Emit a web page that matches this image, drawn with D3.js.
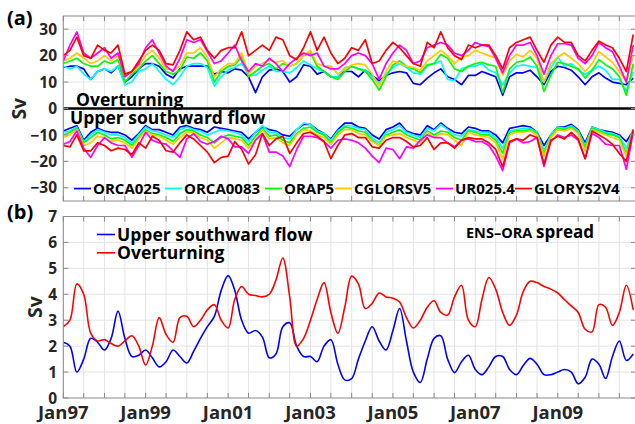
<!DOCTYPE html>
<html><head><meta charset="utf-8">
<script src="https://cdn.jsdelivr.net/npm/d3@7"></script>
<style>
body{margin:0;background:#fff}
text{font-family:"Open Sans",sans-serif;font-weight:bold}
</style>
</head><body>
<svg id="chart" width="635" height="424"></svg>
<script>
// ---------------- DATA ----------------
const startYear = 1997;
const stepMonths = 2;
const seriesNames = ["ORCA025","ORCA0083","ORAP5","CGLORSV5","UR025.4","GLORYS2V4"];
const seriesColors = ["#0000ff","#00ffff","#00ff00","#ffc800","#ff00ff","#ff0000"];

// Overturning (Sv), bimonthly from Jan 1997
const overORCA025 = [15.5,16,16,15,11,14,15,13.5,16,10,12,15,17,17,16,13,11.5,15,16,16,16,16,
  13,14,13.5,15,14.5,12,6,12,14.5,15,14,10,12,16.5,16,13,14,12,12,14,
  14,12,14.5,12.5,10.5,12.5,13.5,14,13.5,9.5,9,11.5,13.5,15,12,11,9,12.5,12.5,14,13,
  12,5,12,13.5,13.5,14.5,12,9,14,16,15.5,14.5,12,9,12,13.5,11.5,10,9.5,9,11.5];
const overORCA0083 = [16,15,16,13,11,14,15,14,16,9,10,14,15,17,14,11,9,12,16,17,17,15.5,
  8.5,12,14.5,15.5,17,13,12.5,14.5,16,14,14,13.5,15.5,18,16.5,15,14,12,12,15.5,
  16,15,14.5,12,9.5,13,15.5,17,15.5,13.5,13,16,17,18,11,10.5,15,16,16,17,14.5,
  13.5,9,13.5,16,16.5,16,15.5,10,15.5,19.5,16,17,14.5,13,14.5,16,14.5,11,11,6.5,14];
const overORAP5 = [17,18,19,17,16,16,18,17,18.5,10,13,15,18,20,17,14,13,14.5,19.5,19,21,18,
  10,14,16,16.5,19.5,12,14,16,17,15,17,16,17,20,21,16,14,12,11,14,
  16,15,14,11,7,12,16.5,18,16,15,13.5,16.5,17,20.5,19,15,14,16,17,17.5,16.5,
  16,6,15,17.5,18,19.5,16,6.5,12.5,17.5,17,16,15,11.5,14.5,18.5,16.5,15,12,5,17];
const overCGLORSV5 = [18,19,21,19,17,18,20,18,20,13,14,16,20,22,19,15,14.5,16,21,21,23,19.5,
  12,15,17,17,21,13,16,17,18.5,17.5,18,16,17,20,22,17,16,16,13,15,
  16.5,17,16.5,13,8.5,14,18,17,16,15.5,14.5,18,20,22,20,17,19.5,20,22,21,20,
  19,12.5,18,20.5,19.5,22,19,10,17,19.5,21,19,17,14,17,21.5,19.5,17.5,14,10,20];
const overUR0254 = [18,24,29,21,19,21,23,19,21,12,14,17,23,26,21,16,14,19,26,25,26,21.5,
  17,18,21,24,18,14,17,16,19,17,14,17,19,21,20,21,16,15,15,17,
  20,21,20,17,11,17,21,24,22,17,18,23,24,25,24,21,20,22,25,24,23.5,
  19,13.5,20,24,24,25,20,13,20,24.5,24.5,24,19,17,20,25,23,21.5,16,10,24];
const overGLORYS2V4 = [20,22,27,20,19,24,22,21,24,13,14,18,22,24,22,17,16.5,22,29,26,27,22,
  19,22,23,23,29,20,22,24,22,27,26,20,18.5,23,29,22,27,21,17,19,
  23,22,26,17,18,22,25,23,20,17,16,25,23,29,23,20,18.5,24,23,24,24,
  20,15,23,25,26,27,22,17.5,24,27,25,25,20,18,22,25.5,24,23,19,14,28];

// Upper southward flow (Sv)
const upperORCA025 = [-8.5,-7.5,-6.5,-12,-9,-7.5,-8.5,-9,-9,-10,-12,-9.5,-6.5,-8,-8,-9,-10,-7,-6.5,-7.5,-8,-9,
  -7,-7.5,-8,-8.5,-9,-11.5,-9,-7,-8,-8.5,-10,-10.5,-8,-6,-6,-8,-9.5,-11.5,-8,-5.5,
  -5.5,-7,-7.5,-10,-11.5,-8,-7,-5.5,-8.5,-9.5,-10,-6.5,-8,-5.5,-7.5,-9,-9.5,-7,-7.5,-8.5,-8.5,
  -10,-13,-7.5,-7,-6.5,-7,-9,-14,-10,-7,-7,-6,-8,-13,-7,-8,-8.5,-9,-10,-12.5,-8.5];
const upperORCA0083 = [-9,-8.5,-7,-12.5,-10,-8,-9,-10,-10,-11,-13,-10,-7,-8.5,-9,-10,-11,-8,-7,-8,-8.5,-10,
  -9,-8,-8.5,-9,-10,-12.5,-9,-6.5,-9,-9,-11,-11.5,-8,-5.5,-6,-8.5,-9.5,-12,-8.5,-6.5,
  -6.5,-7.5,-8,-11,-13,-9,-8,-6.5,-9,-10,-11,-7.5,-8.5,-6,-8,-10,-10.5,-8,-8.5,-9,-9,
  -11,-15,-8.5,-8,-7.5,-7.5,-9,-16,-10,-7,-7.5,-6.5,-8.5,-14,-7,-8,-9,-9.5,-10.5,-15,-8];
const upperORAP5 = [-10,-9,-7.5,-13,-11,-9,-10,-11.5,-11,-12,-14,-11,-8,-9.5,-10,-11,-12.5,-9.5,-8,-8.5,-10,-11,
  -13,-11,-10,-10.5,-11,-14,-10.5,-7.5,-10.5,-10,-12,-13,-9.5,-7.5,-7,-9,-10,-13,-9,-7,
  -7.5,-8.5,-9,-12,-14,-10,-9,-8,-10,-11,-12,-8.5,-10,-8.5,-9,-11,-12,-8.5,-9,-10,-10,
  -12,-17,-9,-8.5,-8.5,-8,-9.5,-17,-10.5,-7.5,-8,-7,-9,-15,-7.5,-8.5,-9.5,-10,-11,-17,-8];
const upperCGLORSV5 = [-11,-10,-8,-14,-13,-10.5,-11,-12.5,-12,-13,-15,-11.5,-8.5,-10,-10.5,-12,-13.5,-11,-9,-9,-11,-12,
  -15,-13,-11,-11.5,-12,-15,-12,-8,-11.5,-11,-13,-14,-10,-8,-8.5,-10,-11,-13.5,-10,-8,
  -8,-9.5,-10,-12.5,-14,-10.5,-10,-9.5,-11,-12,-13,-9,-11,-9.5,-10,-12,-14,-9,-10,-10.5,-11,
  -13,-19,-10,-9,-9,-8.5,-10,-18,-11,-8,-8.5,-7.5,-9.5,-16,-8,-9,-10,-11,-12,-18,-8];
const upperUR0254 = [-13.5,-12.5,-8.5,-15,-18.5,-14,-11,-13,-14,-14,-18.5,-14,-9,-12,-13,-13.5,-16,-18.5,-11.5,-9.5,-12.5,-13.5,
  -12.5,-10.5,-11.5,-14.5,-14.5,-17,-12,-9.5,-16.5,-16.5,-18,-22,-15.5,-10.5,-10.5,-11,-12.5,-15,-12,-11.5,
  -12,-13,-15,-18,-20.5,-15,-15.5,-19,-14.5,-15,-12,-10,-11,-11,-13,-14.5,-12,-11.5,-12.5,-12.5,-14,
  -18,-23.5,-13,-11.5,-13,-12.5,-11,-22,-12.5,-10,-11,-10,-12,-19,-9.5,-11,-13.5,-14,-14,-23,-9];
const upperGLORYS2V4 = [-14,-14.5,-10,-16,-16,-13,-14,-16,-15,-15.5,-17.5,-13,-15,-10.5,-12,-16,-16.5,-13,-10,-11.5,-14,-16.5,
  -20.5,-18.5,-18,-12.5,-15.5,-21,-17.5,-9.5,-14,-11.5,-10.5,-17,-13,-9.5,-9,-10.5,-12.5,-19,-14,-10,
  -9.5,-11,-11,-14.5,-15,-12,-11,-11,-12.5,-14.5,-14,-11,-15.5,-13,-13,-15,-12,-11,-11.5,-11.5,-13,
  -15.5,-22,-12.5,-11.5,-12,-10,-11,-21,-12,-10.5,-11.5,-9,-11.5,-19,-8.5,-10,-11.5,-13.5,-17,-20,-8];

// (b) ENS-ORA spread (Sv)
const spreadUpper = [2.15,2.0,1.0,1.5,2.3,2.15,1.85,2.3,3.35,2.3,1.6,1.65,1.85,1.55,1.2,1.4,1.85,1.6,1.35,1.8,2.3,2.75,3.15,4.15,4.72,4.15,3.0,2.5,2.6,2.35,1.55,1.7,2.75,2.9,2.0,1.6,1.6,
  1.4,2.0,2.25,1.3,0.7,0.75,1.5,2.2,2.75,2.2,1.85,2.6,3.45,2.2,1.0,0.6,1.5,2.3,2.4,1.5,0.98,1.4,1.65,1.1,0.9,1.2,1.6,1.6,1.1,0.9,1.25,1.53,1.3,0.9,0.9,1.0,1.1,1.0,0.55,0.8,1.5,1.3,0.75,1.6,2.2,1.45,1.7];
const spreadOver = [2.75,3.0,4.4,4.0,2.5,2.2,2.25,2.1,2.0,2.2,2.4,2.0,1.27,2.0,3.1,2.45,2.15,3.1,3.15,2.75,3.0,3.4,3.6,3.0,2.7,3.8,4.3,4.0,3.95,3.9,4.0,4.55,5.4,3.9,2.0,2.3,3.0,
  3.8,4.45,3.3,2.5,3.5,4.7,4.4,3.45,3.65,4.05,3.9,3.85,3.7,3.1,2.7,3.0,3.5,3.75,3.3,3.2,3.9,4.35,3.0,2.75,3.8,4.65,4.2,3.3,2.8,3.2,4.1,4.5,4.45,4.3,4.2,4.05,3.8,3.55,3.3,2.65,2.55,3.6,3.5,2.8,3.3,4.35,3.4];

const yTicksA = [-30,-20,-10,0,10,20,30];
const yTicksB = [0,1,2,3,4,5,6,7];
const xLabelYears = [1997,1999,2001,2003,2005,2007,2009];

// ---------------- CHART ----------------
const svg = d3.select("#chart");
const axisGray = "#8a8a8a", gridGray = "#e4e4e4", labelColor = "#262626";
const left = 63.3, frameRight = 637;
const x = d3.scaleUtc().domain([new Date(Date.UTC(1997,0,1)), new Date(Date.UTC(2011,0,1))]).range([left, 640.1]);
const dateAt = i => new Date(Date.UTC(startYear, i*stepMonths, 1));

const panelA = {top:16, bottom:201};
const panelB = {top:216.5, bottom:398};
const yA = d3.scaleLinear().domain([-35,35]).range([panelA.bottom, panelA.top]);
const yB = d3.scaleLinear().domain([0,7]).range([panelB.bottom, panelB.top]);

const gridTicks = x.ticks(d3.utcMonth.every(6)).filter(d => x(d) >= left-0.5 && x(d) <= frameRight);

function panel(y, p, yticks, gridVals){
  const g = svg.append("g");
  g.selectAll(".vg").data(gridTicks).join("line")
    .attr("x1", d=>x(d)).attr("x2", d=>x(d)).attr("y1", p.top).attr("y2", p.bottom)
    .attr("stroke", gridGray).attr("stroke-width", 1);
  g.selectAll(".hg").data(gridVals).join("line")
    .attr("x1", left).attr("x2", frameRight).attr("y1", d=>y(d)).attr("y2", d=>y(d))
    .attr("stroke", gridGray).attr("stroke-width", 1);
  return g;
}
function frame(y, p, yticks){
  const g = svg.append("g");
  g.append("rect").attr("x", left).attr("y", p.top).attr("width", frameRight-left).attr("height", p.bottom-p.top)
    .attr("fill","none").attr("stroke", axisGray).attr("stroke-width", 1);
  // x ticks (inside), bottom & top
  g.selectAll(".xb").data(gridTicks).join("line")
    .attr("x1", d=>x(d)).attr("x2", d=>x(d)).attr("y1", p.bottom).attr("y2", p.bottom-5)
    .attr("stroke", axisGray);
  g.selectAll(".xt").data(gridTicks).join("line")
    .attr("x1", d=>x(d)).attr("x2", d=>x(d)).attr("y1", p.top).attr("y2", p.top+5)
    .attr("stroke", axisGray);
  // y ticks inside, left & right
  g.selectAll(".yl").data(yticks).join("line")
    .attr("x1", left).attr("x2", left+5).attr("y1", d=>y(d)).attr("y2", d=>y(d)).attr("stroke", axisGray);
  g.selectAll(".yr").data(yticks).join("line")
    .attr("x1", frameRight).attr("x2", frameRight-6).attr("y1", d=>y(d)).attr("y2", d=>y(d)).attr("stroke", axisGray);
  // y labels
  g.selectAll(".ylab").data(yticks).join("text")
    .attr("x", 57).attr("y", d=>y(d)).attr("dy","0.36em").attr("text-anchor","end")
    .attr("font-size", 15.5).attr("fill", labelColor)
    .text(d => d < 0 ? "\u2212" + Math.abs(d) : d);
}

// Panel (a)
panel(yA, panelA, yTicksA, [-30,-20,-10,10,20,30]);
const lineA = d3.line().x((d,i)=>x(dateAt(i))).y(d=>yA(d));
const overSeries = [overORCA025, overORCA0083, overORAP5, overCGLORSV5, overUR0254, overGLORYS2V4];
const upperSeries = [upperORCA025, upperORCA0083, upperORAP5, upperCGLORSV5, upperUR0254, upperGLORYS2V4];
const clipA = svg.append("clipPath").attr("id","ca").append("rect")
  .attr("x", left).attr("y", panelA.top).attr("width", frameRight-left).attr("height", panelA.bottom-panelA.top);
const gA = svg.append("g").attr("clip-path","url(#ca)");
seriesNames.forEach((n,k)=>{
  gA.append("path").datum(overSeries[k]).attr("d", lineA).attr("fill","none")
    .attr("stroke", seriesColors[k]).attr("stroke-width", 1.7).attr("stroke-linejoin","round");
  gA.append("path").datum(upperSeries[k]).attr("d", lineA).attr("fill","none")
    .attr("stroke", seriesColors[k]).attr("stroke-width", 1.7).attr("stroke-linejoin","round");
});
svg.append("line").attr("x1", left).attr("x2", frameRight).attr("y1", yA(0)).attr("y2", yA(0))
  .attr("stroke","#000").attr("stroke-width", 2.6);
frame(yA, panelA, yTicksA);
svg.append("text").attr("x", 76).attr("y", 105.5).attr("font-size", 17.5).attr("fill","#000").text("Overturning");
svg.append("text").attr("x", 70).attr("y", 123.5).attr("font-size", 17.5).attr("fill","#000").text("Upper southward flow");

// legend (a)
const legX = [74, 165, 265, 335, 436, 515];
const legA = svg.append("g");
seriesNames.forEach((n,k)=>{
  legA.append("line").attr("x1", legX[k]).attr("x2", legX[k]+17).attr("y1", 188.6).attr("y2", 188.6)
    .attr("stroke", seriesColors[k]).attr("stroke-width", 1.7);
  legA.append("text").attr("x", legX[k]+19).attr("y", 194.3).attr("font-size", 15).attr("fill","#000").text(n);
});

// Panel (b)
panel(yB, panelB, yTicksB, [1,2,3,4,5,6]);
const lineB = d3.line().x((d,i)=>x(dateAt(i))).y(d=>yB(d)).curve(d3.curveCatmullRom.alpha(0.5));
const clipB = svg.append("clipPath").attr("id","cb").append("rect")
  .attr("x", left).attr("y", panelB.top).attr("width", frameRight-left).attr("height", panelB.bottom-panelB.top);
const gB = svg.append("g").attr("clip-path","url(#cb)");
gB.append("path").datum(spreadUpper).attr("d", lineB).attr("fill","none").attr("stroke","#0000ff").attr("stroke-width",1.6);
gB.append("path").datum(spreadOver).attr("d", lineB).attr("fill","none").attr("stroke","#ff0000").attr("stroke-width",1.6);
frame(yB, panelB, yTicksB);

// x labels
svg.selectAll(".xlab").data(xLabelYears).join("text")
  .attr("x", d=>x(new Date(Date.UTC(d,0,1)))).attr("y", 419).attr("text-anchor","middle")
  .attr("font-size", 18.5).attr("fill", labelColor)
  .text(d => "Jan" + String(d).slice(2));

// legend (b)
const legB = [{name:"Upper southward flow", color:"#0000ff", y:234.5},{name:"Overturning", color:"#ff0000", y:252.8}];
legB.forEach(l=>{
  svg.append("line").attr("x1", 97).attr("x2", 115).attr("y1", l.y).attr("y2", l.y).attr("stroke", l.color).attr("stroke-width",1.6);
  svg.append("text").attr("x", 117).attr("y", l.y+6).attr("font-size", 17.5).attr("fill","#000").text(l.name);
});
const ens = svg.append("text").attr("x", 466).attr("y", 238).attr("fill","#000");
ens.append("tspan").attr("font-size", 14.5).text("ENS\u2013ORA ");
ens.append("tspan").attr("font-size", 17).text("spread");

// panel labels and y titles
svg.append("text").attr("x", 7).attr("y", 25).attr("font-size", 20).attr("fill","#000").text("(a)");
svg.append("text").attr("x", 7).attr("y", 219).attr("font-size", 20).attr("fill","#000").text("(b)");
svg.append("text").attr("transform","translate(26,108.7) rotate(-90)").attr("text-anchor","middle")
  .attr("font-size", 19.5).attr("fill", labelColor).text("Sv");
svg.append("text").attr("transform","translate(42,307) rotate(-90)").attr("text-anchor","middle")
  .attr("font-size", 19.5).attr("fill", labelColor).text("Sv");
</script>
</body></html>
